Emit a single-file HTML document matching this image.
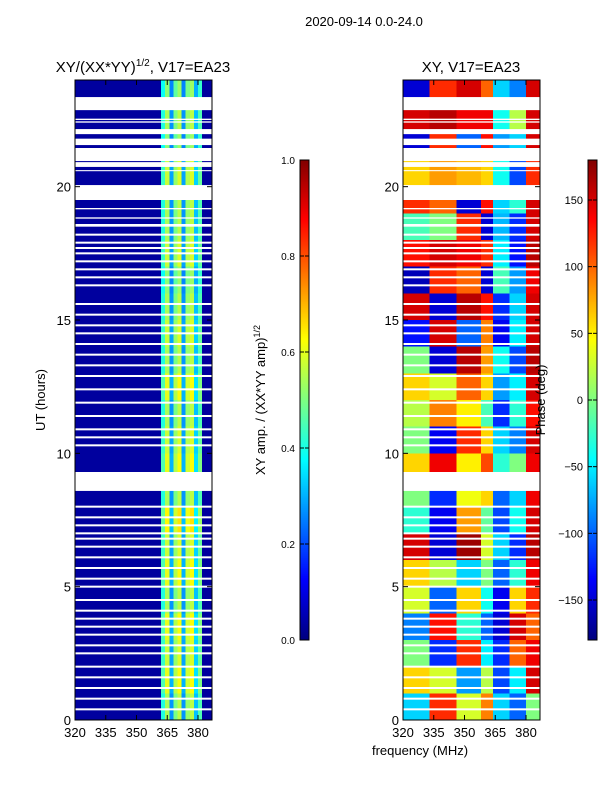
<!DOCTYPE html>
<html><head><meta charset="utf-8"><style>
body{margin:0;background:#fff;font-family:"Liberation Sans",sans-serif;}
svg text{font-family:"Liberation Sans",sans-serif;}
</style></head><body>
<svg id="fig" width="600" height="800" viewBox="0 0 600 800" xmlns="http://www.w3.org/2000/svg">
<rect width="600" height="800" fill="#fff"/>
<text x="364" y="26" font-size="13" text-anchor="middle">2020-09-14 0.0-24.0</text>
<text x="143" y="72" font-size="15" text-anchor="middle">XY/(XX*YY)<tspan font-size="10" dy="-6">1/2</tspan><tspan dy="6">, V17=EA23</tspan></text>
<text x="471" y="72" font-size="15" text-anchor="middle">XY, V17=EA23</text>
<g id="ampHeat"></g>
<g id="phHeat"></g>
<g id="axes"></g>
<g id="cbars"></g>
<text transform="translate(45,400) rotate(-90)" font-size="13" text-anchor="middle">UT (hours)</text>
<text transform="translate(265,400) rotate(-90)" font-size="13" text-anchor="middle">XY amp. / (XX*YY amp)<tspan font-size="9" dy="-5">1/2</tspan></text>
<text transform="translate(545,400) rotate(-90)" font-size="13" text-anchor="middle">Phase (deg)</text>
<text x="420" y="755" font-size="13" text-anchor="middle">frequency (MHz)</text>
</svg>
<script>
// ---- data ----
const phaseColEdges=[320,333,346,358,364,372,380,387];
const phaseRows=[ // hour 0-1 first
[-60,120,30,90,-60,-100,0],
[60,30,-80,20,-110,-50,150],
[0,-120,120,-50,-120,100,140],
[-90,130,-30,-100,-150,150,100],
[30,-100,60,-40,-140,60,120],
[60,20,-60,0,-100,-30,140],
[150,-150,170,30,-60,-120,160],
[-30,-140,80,-10,-110,-40,150],
[0,-120,40,60,-100,-60,140],
[60,140,50,110,-30,0,140],
[0,-140,120,60,-60,-90,150],
[20,90,50,-20,-120,-30,130],
[60,30,100,60,-80,-50,150],
[0,-150,160,80,-40,-110,160],
[-130,150,-100,90,-140,-50,150],
[150,-150,160,130,-120,-60,150],
[-160,120,100,-150,-20,-80,140],
[130,150,140,120,-50,-130,160],
[-20,0,120,-150,-70,-120,150],
[120,100,-150,130,-60,-30,150],
[60,80,70,60,-40,-110,120],
[-150,120,-100,130,-80,-60,150],
[150,160,140,140,-40,20,150],
[-150,120,150,100,-60,-90,150]];
const ampColEdges=[320,362,364,366,368,370,372,374,376,378,380,382,387];
const ampCols=[0.03,0.45,0.6,0.3,0.55,0.62,0.3,0.58,0.62,0.35,0.5,0.03];
const ampHourScale=[0.9,1.0,0.95,1.0,0.9,1.0,0.95,1.05,0.9,1.0,0.95,0.9,1.0,0.9,0.95,0.9,0.85,0.95,0.9,0.9,0.95,0.85,0.9,0.85];
const gaps=[[22.87,23.36],[22.4,22.45],[22.5,22.55],[21.97,22.16],[21.56,21.8],[20.96,21.45],[20.74,20.92],[20.58,20.62],[19.5,20.06],[19.15,19.2],[18.8,18.85],[18.5,18.6],[8.59,9.3]];
const thinGaps=[18.2,17.9,17.7,17.5,17.2,16.9,16.6,16.3,15.6,15.2,14.8,14.5,14.1,13.7,13.3,12.9,12.4,11.9,11.4,10.9,10.6,10.3,8.0,7.6,7.3,7.0,6.8,6.5,6.1,5.7,5.3,5.0,4.5,4.1,3.8,3.5,3.2,2.8,2.5,2.0,1.6,1.2,0.8,0.4];
const xTicks=[320,335,350,365,380];
const yTicks=[0,5,10,15,20];
const ampCbTicks=[0,0.2,0.4,0.6,0.8,1.0];
const phCbTicks=[-150,-100,-50,0,50,100,150];
// ---- scales ----
const NS="http://www.w3.org/2000/svg";
const yS=h=>720-h*(640/24);
const xL=f=>75+(f-320)*(123/60);
const xR=f=>403+(f-320)*(123/60);
function jet(v){v=Math.max(0,Math.min(1,v));
 const r=Math.max(0,Math.min(1,1.5-Math.abs(4*v-3))),g=Math.max(0,Math.min(1,1.5-Math.abs(4*v-2))),b=Math.max(0,Math.min(1,1.5-Math.abs(4*v-1)));
 return `rgb(${Math.round(r*255)},${Math.round(g*255)},${Math.round(b*255)})`;}
function mk(tag,attrs,parent){const e=document.createElementNS(NS,tag);for(const k in attrs)e.setAttribute(k,attrs[k]);parent.appendChild(e);return e;}
const ampG=document.getElementById('ampHeat'),phG=document.getElementById('phHeat');
for(let h=0;h<24;h++){
 for(let c=0;c<ampCols.length;c++){
  const x0=xL(ampColEdges[c]),x1=xL(ampColEdges[c+1]);
  const v=c===0||c===ampCols.length-1?ampCols[c]:ampCols[c]*ampHourScale[h];
  const r=mk('rect',{x:x0,y:yS(h+1),width:x1-x0,height:yS(h)-yS(h+1),fill:jet(v),'shape-rendering':'crispEdges'},ampG);
  
  
 }
 for(let c=0;c<phaseRows[h].length;c++){
  const x0=xR(phaseColEdges[c]),x1=xR(phaseColEdges[c+1]);
  const r=mk('rect',{x:x0,y:yS(h+1),width:x1-x0,height:yS(h)-yS(h+1),fill:jet((phaseRows[h][c]+180)/360),'shape-rendering':'crispEdges'},phG);
  
  
 }
}
[[ampG,75],[phG,403]].forEach(([g,x])=>{
 gaps.forEach(([a,b])=>{const r=mk('rect',{x:x,y:yS(b),width:137,height:yS(a)-yS(b),fill:'#fff'},g);
  
  });
 thinGaps.forEach(t=>{const r=mk('rect',{x:x,y:yS(t)-1,width:137,height:2,fill:'#fff'},g);
  
  });
});
const ax=document.getElementById('axes');
[[75,xL,'amp'],[403,xR,'phase']].forEach(([x0,xs,nm])=>{
 const f=mk('rect',{x:x0,y:80,width:137,height:640,fill:'none',stroke:'#000','stroke-width':1},ax);
 
 
 xTicks.forEach(t=>{const x=xs(t);
  mk('line',{x1:x,x2:x,y1:720,y2:715,stroke:'#000'},ax);mk('line',{x1:x,x2:x,y1:80,y2:85,stroke:'#000'},ax);
  const tx=mk('text',{x:x,y:737,'font-size':13,'text-anchor':'middle'},ax);tx.textContent=t;
  
  });
 yTicks.forEach(t=>{const y=yS(t);
  mk('line',{x1:x0,x2:x0+5,y1:y,y2:y,stroke:'#000'},ax);mk('line',{x1:x0+137,x2:x0+132,y1:y,y2:y,stroke:'#000'},ax);
  const tx=mk('text',{x:x0-4,y:y+5,'font-size':13,'text-anchor':'end'},ax);tx.textContent=t;
  
  });
});
const cb=document.getElementById('cbars');
for(let i=0;i<240;i++){const v=i/240;
 mk('rect',{x:300,y:640-(i+1)*2,width:9,height:2.3,fill:jet(v)},cb);
 mk('rect',{x:588,y:640-(i+1)*2,width:9,height:2.3,fill:jet(v)},cb);}
const c1=mk('rect',{x:300,y:160,width:9,height:480,fill:'none',stroke:'#000'},cb);


const c2=mk('rect',{x:588,y:160,width:9,height:480,fill:'none',stroke:'#000'},cb);


ampCbTicks.forEach(t=>{const y=640-t*480;mk('line',{x1:300,x2:304,y1:y,y2:y,stroke:'#000'},cb);mk('line',{x1:309,x2:305,y1:y,y2:y,stroke:'#000'},cb);
 const tx=mk('text',{x:295,y:y+4,'font-size':10,'text-anchor':'end'},cb);tx.textContent=t.toFixed(1);
 
 });
phCbTicks.forEach(t=>{const y=640-(t+180)/360*480;mk('line',{x1:588,x2:592,y1:y,y2:y,stroke:'#000'},cb);mk('line',{x1:597,x2:593,y1:y,y2:y,stroke:'#000'},cb);
 const tx=mk('text',{x:583,y:y+4,'font-size':11,'text-anchor':'end'},cb);tx.textContent=t<0?'\u2212'+(-t):t;
 
 });
</script>
</body></html>
